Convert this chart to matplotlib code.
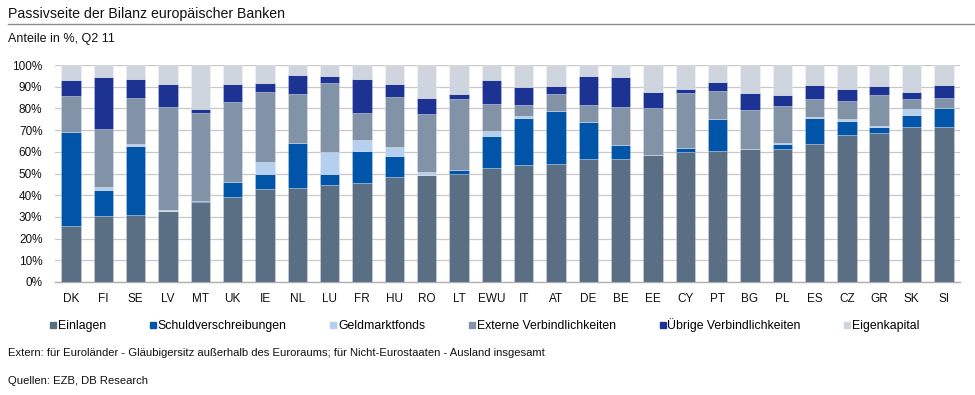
import numpy as np
import matplotlib
matplotlib.use("Agg")
import matplotlib.pyplot as plt
from matplotlib.lines import Line2D
from matplotlib.ticker import FuncFormatter, MultipleLocator

plt.rcParams['font.family'] = ['Liberation Sans', 'DejaVu Sans']

# Laender (Q2 2011)
countries = ["DK", "FI", "SE", "LV", "MT", "UK", "IE", "NL", "LU", "FR", "HU", "RO", "LT", "EWU",
             "IT", "AT", "DE", "BE", "EE", "CY", "PT", "BG", "PL", "ES", "CZ", "GR", "SK", "SI"]

# Anteile in %
einlagen = [26.0, 30.2, 30.9, 32.5, 36.8, 39.4, 42.8, 43.2, 44.6, 45.8, 48.3, 49.2, 49.8, 52.5,
            53.7, 54.6, 56.6, 56.6, 58.5, 60.0, 60.3, 61.1, 61.2, 63.5, 67.7, 68.6, 71.4, 71.4]
schuldverschr = [43.2, 12.0, 31.9, 0.3, 0.3, 6.8, 6.9, 20.8, 5.4, 14.7, 9.9, 0.3, 1.6, 15.0,
                 22.0, 24.3, 17.1, 6.6, 0.0, 1.8, 14.6, 0.3, 2.6, 12.2, 6.5, 2.9, 5.7, 8.9]
geldmarktfonds = [0.0, 1.8, 1.0, 0.6, 0.4, 0.1, 5.4, 0.0, 10.0, 4.9, 3.8, 1.0, 0.0, 2.0,
                  0.9, 0.1, 0.1, 0.0, 0.0, 0.1, 0.1, 0.1, 0.1, 0.3, 0.7, 0.3, 2.6, 0.1]
extern = [16.6, 26.3, 21.0, 47.4, 40.5, 36.8, 32.3, 22.6, 31.7, 12.6, 23.4, 26.9, 32.8, 12.7,
          5.2, 7.6, 8.0, 17.4, 21.7, 25.0, 13.2, 17.8, 17.0, 8.3, 8.6, 14.5, 4.8, 4.3]
uebrige = [7.3, 24.3, 8.9, 10.6, 1.5, 8.3, 4.4, 8.8, 3.2, 15.4, 5.7, 7.4, 2.4, 10.7,
           8.0, 3.9, 13.1, 13.9, 7.3, 2.1, 3.8, 8.0, 5.4, 6.3, 5.4, 4.2, 2.9, 6.3]
series_names = ["Einlagen", "Schuldverschreibungen", "Geldmarktfonds",
                "Externe Verbindlichkeiten", "Übrige Verbindlichkeiten", "Eigenkapital"]
colors = ["#5a6e84", "#0055a8", "#b4d0ee", "#8293a8", "#1c3393", "#ced5df"]

# Eigenkapital = Rest bis 100 %
parts = [einlagen, schuldverschr, geldmarktfonds, extern, uebrige]
eigenkapital = list(100 - np.sum(np.array(parts), axis=0))
parts.append(eigenkapital)

fig = plt.figure(figsize=(9.75, 3.95), dpi=100)
ax = fig.add_axes([0.0564, 0.2861, 0.9282, 0.5493])

x = np.arange(len(countries))
bottom = np.zeros(len(countries))
for vals, name, col in zip(parts, series_names, colors):
    ax.bar(x, vals, width=0.6, bottom=bottom, color=col, label=name,
           edgecolor=(1, 1, 1, 0.35), linewidth=0.5, zorder=3)
    bottom += np.array(vals)

ax.set_xlim(-0.5, len(countries) - 0.5)
ax.set_ylim(0, 100)
ax.yaxis.set_major_locator(MultipleLocator(10))
ax.yaxis.set_major_formatter(FuncFormatter(lambda v, p: f"{v:.0f}%"))
ax.set_xticks(x)
ax.set_xticklabels(countries)
ax.tick_params(axis="both", length=0, labelsize=8.5, colors="#111111")
ax.tick_params(axis="x", pad=8)
ax.tick_params(axis="y", pad=9)
ax.grid(axis="y", color="#c8c8c8", linewidth=0.9, zorder=0)
for s in ["top", "right", "left"]:
    ax.spines[s].set_visible(False)
ax.spines["bottom"].set_color("#b0b0b0")
ax.spines["bottom"].set_linewidth(1.0)

# Legende
handles = [Line2D([], [], marker="s", linestyle="none", markersize=5,
                  markerfacecolor=c, markeredgecolor=c) for c in colors]
fig.legend(handles, series_names, loc="center left", bbox_to_anchor=(0.046, 0.177),
           ncol=6, frameon=False, fontsize=8.8, handlelength=0.55, handletextpad=0.12,
           columnspacing=3.55, borderaxespad=0)

# Titel und Texte
fig.text(0.008, 0.965, "Passivseite der Bilanz europäischer Banken", fontsize=10.2,
         va="center", ha="left", color="#111111")
fig.add_artist(Line2D([0.008, 1.0], [0.938, 0.938], color="#8c8c8c", linewidth=1.0))
fig.text(0.008, 0.902, "Anteile in %, Q2 11", fontsize=9, va="center", ha="left", color="#111111")
fig.text(0.008, 0.106, "Extern: für Euroländer - Gläubigersitz außerhalb des Euroraums; für Nicht-Eurostaaten - Ausland insgesamt",
         fontsize=8.1, va="center", ha="left", color="#111111")
fig.text(0.008, 0.036, "Quellen: EZB, DB Research", fontsize=8.1, va="center", ha="left", color="#111111")

fig.savefig("out.png", dpi=100)
